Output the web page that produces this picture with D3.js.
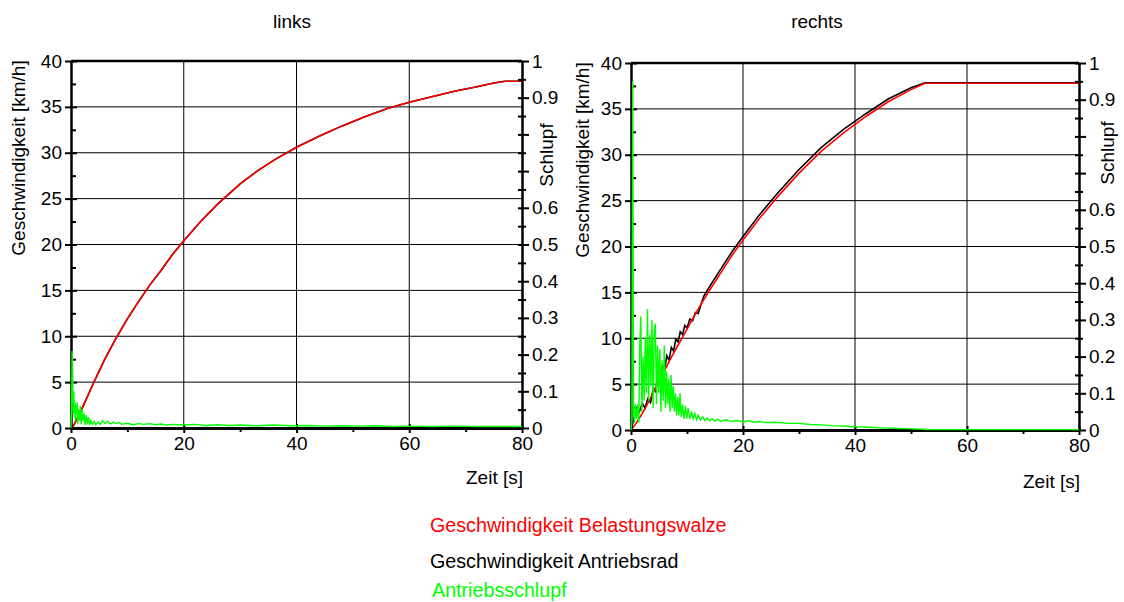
<!DOCTYPE html>
<html><head><meta charset="utf-8">
<script src="https://cdn.jsdelivr.net/npm/d3@7/dist/d3.min.js"></script>
<style>
body{margin:0;background:#fff}
svg{display:block}
text{font-family:"Liberation Sans",Arial,Helvetica,sans-serif;}
</style>
</head><body>
<svg id="chart" width="1124" height="602"></svg>
<script>
// ---------- tick labels / categories ----------
const panelTitles = ["links", "rechts"];
const speedTicks = [0,5,10,15,20,25,30,35,40];
const speedMinorTicks = [2.5,7.5,12.5,17.5,22.5,27.5,32.5,37.5];
const slipTicks = [0,0.1,0.2,0.3,0.4,0.5,0.6,0.7,0.8,0.9,1];
const slipTickLabels = ["0","0.1","0.2","0.3","0.4","0.5","0.6","","","0.9","1"];
const slipMinorTicks = [0.05,0.15,0.25,0.35,0.45,0.55,0.65,0.75,0.85,0.95];
const timeTicks = [0,20,40,60,80];
const timeMinorTicks = [10,30,50,70];
const legendLabels = ["Geschwindigkeit Belastungswalze","Geschwindigkeit Antriebsrad","Antriebsschlupf"];

// ---------- left panel ("links") ----------
const leftSpeedTime   = [0,0.5,2,4,6,8,10,12,14,16,18,20,23,26,30,33,36,40,44,48,52,56,60,64,68,72,75,77,80];
const leftLoadSpeed   = [0,0.3,2.2,4.9,7.5,9.8,11.9,13.8,15.6,17.2,18.9,20.4,22.5,24.4,26.6,28.0,29.2,30.6,31.8,32.9,33.9,34.8,35.5,36.1,36.7,37.2,37.6,37.8,37.8];
const leftDriveSpeed  = [0,0.3,2.2,4.9,7.5,9.8,11.9,13.8,15.6,17.2,18.9,20.4,22.5,24.4,26.6,28.0,29.2,30.6,31.8,32.9,33.9,34.8,35.5,36.1,36.7,37.2,37.6,37.8,37.8];
const leftSlipTime = [0,0.1,0.2,0.3,0.4,0.5,0.6,0.7,0.8,0.9,1.0,1.1,1.2,1.35,1.5,1.65,1.8,1.95,2.1,2.3,2.5,2.7,2.9,3.1,3.3,3.5,3.8,4.1,4.4,4.8,5.2,5.6,6.0,6.5,7.0,7.5,8.0,8.5,9,10,11,12,13,14,15,16,17,18,20,22,24,26,28,30,33,36,39,42,45,48,51,54,57,60,64,68,72,76,80];
const leftSlip     = [0,0.05,0.21,0.15,0.04,0.10,0.03,0.07,0.02,0.06,0.04,0.07,0.01,0.05,0.02,0.06,0.01,0.05,0.02,0.04,0.008,0.035,0.01,0.03,0.008,0.02,0.01,0.018,0.009,0.016,0.01,0.02,0.012,0.018,0.011,0.016,0.012,0.015,0.01,0.013,0.009,0.012,0.01,0.012,0.009,0.011,0.008,0.01,0.008,0.01,0.007,0.009,0.007,0.008,0.006,0.008,0.006,0.007,0.005,0.006,0.005,0.006,0.004,0.005,0.004,0.005,0.004,0.004,0.004];

// ---------- right panel ("rechts") ----------
const rightLoadTime  = [0,1,2,3,4,5,6,7,8,10,12,14,16,18,20,23,26,30,34,38,42,46,50,52.5,80];
const rightLoadSpeed = [0,0.8,1.8,2.9,4.1,5.3,6.5,7.7,8.8,11.0,13.2,15.2,17.1,19.0,20.7,23.1,25.3,28.0,30.4,32.4,34.2,35.8,37.1,37.8,37.8];
const rightDriveTime  = [0,0.5,1,1.5,2,2.5,3,3.5,4,4.4,4.8,5.2,5.6,6.0,6.4,6.8,7.2,7.6,8.0,8.4,8.8,9.2,9.6,10.0,10.5,11,11.5,12,13,14,16,18,20,23,26,30,34,38,42,46,50,52.5,80];
const rightDriveSpeed = [0,1.2,2.4,2.0,2.9,2.4,3.4,3.0,4.6,4.2,5.8,5.4,7.0,6.6,8.1,7.6,9.0,8.6,9.9,9.6,10.7,10.4,11.4,11.1,12.1,11.9,12.8,12.7,14.6,15.6,17.5,19.4,21.1,23.5,25.7,28.4,30.8,32.8,34.5,36.1,37.3,37.85,37.85];
const rightSlipTime = [0,0.15,0.3,0.45,0.6,0.8,1.0,1.2,1.4,1.55,1.75,1.95,2.15,2.35,2.55,2.75,2.95,3.15,3.35,3.55,3.75,3.95,4.15,4.35,4.55,4.75,4.95,5.15,5.35,5.55,5.75,5.95,6.15,6.35,6.55,6.75,6.95,7.15,7.35,7.55,7.75,7.95,8.15,8.35,8.55,8.75,8.95,9.2,9.45,9.7,9.95,10.2,10.5,10.8,11.1,11.4,11.7,12.0,12.4,12.8,13.2,13.6,14.0,14.5,15,15.5,16,17,18,19,20,21,22,23,24,26,28,30,32,34,36,38,40,42,44,46,48,50,52,53,80];
const rightSlip     = [0,0.02,0.95,0.05,0.02,0.07,0.03,0.07,0.02,0.22,0.31,0.05,0.20,0.08,0.25,0.10,0.33,0.08,0.26,0.12,0.30,0.06,0.27,0.29,0.07,0.23,0.10,0.22,0.05,0.19,0.08,0.23,0.06,0.16,0.07,0.14,0.05,0.15,0.06,0.12,0.05,0.10,0.04,0.09,0.04,0.10,0.035,0.07,0.03,0.065,0.03,0.06,0.03,0.05,0.03,0.045,0.028,0.04,0.027,0.036,0.026,0.033,0.025,0.031,0.024,0.029,0.024,0.028,0.023,0.026,0.022,0.025,0.021,0.023,0.020,0.021,0.018,0.018,0.015,0.014,0.012,0.011,0.009,0.008,0.006,0.005,0.004,0.003,0.002,0.001,0.001];

const zip = (a,b) => a.map((v,i)=>[v,b[i]]);

const panels = [
  { title: panelTitles[0], titleX: 292, x0: 71, x1: 522, yb: 428, yt: 61,
    load: zip(leftSpeedTime, leftLoadSpeed), drive: zip(leftSpeedTime, leftDriveSpeed), slip: zip(leftSlipTime, leftSlip),
    yLabelX: 18, yLabelY: 158, sLabelX: 546, sLabelY: 155, zeitBase: 484 },
  { title: panelTitles[1], titleX: 817, x0: 631, x1: 1079, yb: 430, yt: 63,
    load: zip(rightLoadTime, rightLoadSpeed), drive: zip(rightDriveTime, rightDriveSpeed), slip: zip(rightSlipTime, rightSlip),
    yLabelX: 582, yLabelY: 160, sLabelX: 1107, sLabelY: 153, zeitBase: 488 }
];

const svg = d3.select("#chart");
const FS = 19;

panels.forEach(p => {
  const g = svg.append("g");
  const x = d3.scaleLinear().domain([0,80]).range([p.x0, p.x1]);
  const y = d3.scaleLinear().domain([0,40]).range([p.yb, p.yt]);
  const s = d3.scaleLinear().domain([0,1]).range([p.yb, p.yt]);

  // grid
  g.append("g").selectAll("line").data(speedTicks.slice(1,-1)).join("line")
    .attr("x1", p.x0).attr("x2", p.x1).attr("y1", d=>y(d)).attr("y2", d=>y(d))
    .attr("stroke", "#000").attr("stroke-width", 1);
  g.append("g").selectAll("line").data(timeTicks.slice(1,-1)).join("line")
    .attr("y1", p.yt).attr("y2", p.yb).attr("x1", d=>x(d)).attr("x2", d=>x(d))
    .attr("stroke", "#000").attr("stroke-width", 1);

  // data lines
  const lineSpeed = d3.line().x(d=>x(d[0])).y(d=>y(d[1]));
  const lineSlip = d3.line().x(d=>x(d[0])).y(d=>s(d[1]));
  g.append("path").attr("d", lineSpeed(p.drive)).attr("fill","none").attr("stroke","#000").attr("stroke-width",1.6);
  g.append("path").attr("d", lineSpeed(p.load)).attr("fill","none").attr("stroke","#ff0000").attr("stroke-width",1.6);

  // top border
  g.append("line").attr("x1", p.x0).attr("x2", p.x1).attr("y1", p.yt).attr("y2", p.yt)
    .attr("stroke","#000").attr("stroke-width",2.5);

  // left axis (speed)
  const ax = g.append("g").attr("transform", `translate(${p.x0},0)`)
    .call(d3.axisLeft(y).tickValues(speedTicks).tickSize(6).tickSizeOuter(0).tickPadding(3));
  ax.select(".domain").attr("stroke-width", 2.5);
  ax.selectAll(".tick line").attr("x1", 6).attr("stroke-width", 2);
  ax.selectAll(".tick text").attr("font-size", FS).attr("font-family", "Liberation Sans, Arial, sans-serif").attr("fill","#000");
  g.append("g").attr("transform", `translate(${p.x0},0)`)
    .call(d3.axisLeft(y).tickValues(speedMinorTicks).tickSize(-5).tickFormat(""))
    .call(a=>a.select(".domain").remove())
    .selectAll(".tick line").attr("stroke-width", 2);

  // right axis (slip)
  const ar = g.append("g").attr("transform", `translate(${p.x1},0)`)
    .call(d3.axisRight(s).tickValues(slipTicks).tickSize(7).tickSizeOuter(0).tickPadding(3)
      .tickFormat((d,i)=>slipTickLabels[i]));
  ar.select(".domain").attr("stroke-width", 2.5);
  ar.selectAll(".tick line").attr("x1", -4).attr("stroke-width", 2);
  ar.selectAll(".tick text").attr("font-size", FS).attr("font-family", "Liberation Sans, Arial, sans-serif").attr("fill","#000");
  g.append("g").attr("transform", `translate(${p.x1},0)`)
    .call(d3.axisRight(s).tickValues(slipMinorTicks).tickSize(4).tickFormat(""))
    .call(a=>a.select(".domain").remove())
    .selectAll(".tick line").attr("x1", -4).attr("stroke-width", 2);

  // bottom axis (time)
  const ab = g.append("g").attr("transform", `translate(0,${p.yb})`)
    .call(d3.axisBottom(x).tickValues(timeTicks).tickSize(5).tickSizeOuter(0).tickPadding(4));
  ab.select(".domain").attr("stroke-width", 3);
  ab.selectAll(".tick line").attr("y1", -4).attr("stroke-width", 2);
  ab.selectAll(".tick text").attr("font-size", FS).attr("font-family", "Liberation Sans, Arial, sans-serif").attr("fill","#000");
  g.append("g").attr("transform", `translate(0,${p.yb})`)
    .call(d3.axisBottom(x).tickValues(timeMinorTicks).tickSize(4).tickFormat(""))
    .call(a=>a.select(".domain").remove())
    .selectAll(".tick line").attr("stroke-width", 2);

  // slip line on top
  g.append("path").attr("d", lineSlip(p.slip)).attr("fill","none").attr("stroke","#00ff00").attr("stroke-width",1.4);

  // texts
  g.append("text").attr("x", p.titleX).attr("y", 28).attr("text-anchor","middle").attr("font-size", FS).text(p.title);
  g.append("text").attr("transform", `translate(${p.yLabelX + 7},${p.yLabelY}) rotate(-90)`)
    .attr("text-anchor","middle").attr("font-size", FS).text("Geschwindigkeit [km/h]");
  g.append("text").attr("transform", `translate(${p.sLabelX + 7},${p.sLabelY}) rotate(-90)`)
    .attr("text-anchor","middle").attr("font-size", FS).text("Schlupf");
  g.append("text").attr("x", p.x1 + 1).attr("y", p.zeitBase).attr("text-anchor","end").attr("font-size", FS).text("Zeit [s]");
});

// legend
const legendColors = ["#ff0000", "#000000", "#00ff00"];
const legendY = [532, 568, 597];
svg.append("g").selectAll("text").data(legendLabels).join("text")
  .attr("x", (d,i)=> i===2 ? 432 : 430).attr("y", (d,i)=>legendY[i])
  .attr("font-size", 19.7).attr("fill", (d,i)=>legendColors[i]).text(d=>d);
</script>
</body></html>
